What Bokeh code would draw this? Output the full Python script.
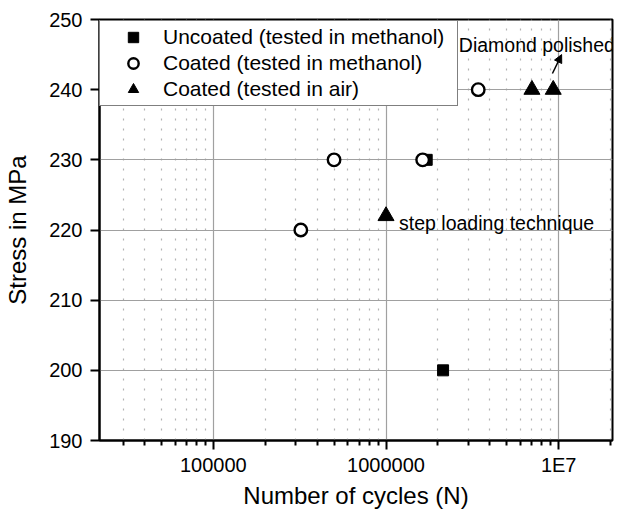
from bokeh.plotting import figure
from bokeh.models import (FixedTicker, Range1d, Label, Arrow, NormalHead, Legend, LegendItem)
from bokeh.embed import file_html
from bokeh.resources import INLINE

# ---- data ----
uncoated_cycles = [1.72e6, 2.14e6]
uncoated_stress = [230, 200]
coated_meth_cycles = [3.21e5, 5.0e5, 1.63e6, 3.42e6]
coated_meth_stress = [220, 230, 230, 240]
coated_air_cycles = [1.0e6, 7.0e6, 9.3e6]
coated_air_stress = [222, 240, 240]

x_major = [1e5, 1e6, 1e7]
x_major_labels = {1e5: "100000", 1e6: "1000000", 1e7: "1E7"}
x_minor = [m * 10 ** e for e in (4, 5, 6) for m in range(2, 10)] + [2e7]
y_ticks = [190, 200, 210, 220, 230, 240, 250]

FONT = "Liberation Sans"

p = figure(width=626, height=513, x_axis_type="log",
           x_range=Range1d(2.19e4, 2.05e7), y_range=Range1d(190, 250),
           output_backend="svg", toolbar_location=None,
           min_border_left=99, min_border_right=14, min_border_top=19, min_border_bottom=73)
p.background_fill_color = "white"
p.outline_line_color = "black"
p.outline_line_width = 2

# axes
p.xaxis.ticker = FixedTicker(ticks=x_major, minor_ticks=x_minor)
p.xaxis.major_label_overrides = x_major_labels
p.yaxis.ticker = FixedTicker(ticks=y_ticks)
for ax in (p.xaxis[0], p.yaxis[0]):
    ax.axis_line_width = 2
    ax.axis_line_color = "black"
    ax.major_tick_line_width = 2
    ax.major_tick_line_color = "black"
    ax.major_tick_out = 9
    ax.major_tick_in = 0
    ax.major_label_text_font = FONT
    ax.major_label_text_font_size = "20px"
    ax.major_label_text_color = "black"
    ax.axis_label_text_font = FONT
    ax.axis_label_text_font_size = "24px"
    ax.axis_label_text_font_style = "normal"
    ax.axis_label_text_color = "black"
p.xaxis.minor_tick_line_width = 2
p.xaxis.minor_tick_line_color = "black"
p.xaxis.minor_tick_out = 5
p.xaxis.minor_tick_in = 0
p.yaxis.minor_tick_line_color = None
p.xaxis.major_label_standoff = 4
p.xaxis.axis_label_standoff = 3
p.yaxis.major_label_standoff = 8
p.yaxis.axis_label_standoff = 15
p.xaxis.axis_label = "Number of cycles (N)"
p.yaxis.axis_label = "Stress in MPa"

# grids
p.xgrid.grid_line_color = "#a0a0a0"
p.xgrid.grid_line_width = 1.2
p.xgrid.minor_grid_line_color = "#b4b4b4"
p.xgrid.minor_grid_line_dash = "2 8"
p.xgrid.minor_grid_line_width = 1.2
p.ygrid.grid_line_color = "#a0a0a0"
p.ygrid.grid_line_width = 1.2

# markers
r1 = p.scatter(uncoated_cycles, uncoated_stress, marker="square", size=11,
               fill_color="black", line_color="black")
r2 = p.scatter(coated_meth_cycles, coated_meth_stress, marker="circle", size=12.5,
               fill_color="white", line_color="black", line_width=2.4)
r3 = p.scatter(coated_air_cycles, coated_air_stress, marker="triangle", size=16,
               fill_color="black", line_color="black")

legend = Legend(items=[
    LegendItem(label="Uncoated (tested in methanol)", renderers=[r1]),
    LegendItem(label="Coated (tested in methanol)", renderers=[r2]),
    LegendItem(label="Coated (tested in air)", renderers=[r3]),
], location=(0, 334))
legend.margin = 0
legend.padding = 3
legend.spacing = 0
legend.glyph_width = 60
legend.glyph_height = 26
legend.label_height = 26
legend.label_width = 291
legend.label_standoff = 0
legend.label_text_font = FONT
legend.label_text_font_size = "21px"
legend.label_text_color = "black"
legend.border_line_color = "black"
legend.border_line_width = 1
legend.background_fill_color = "white"
legend.background_fill_alpha = 1
p.add_layout(legend, "center")

# annotations
p.add_layout(Label(x=1.19e6, y=221, text="step loading technique",
                   text_font=FONT, text_font_size="19.5px",
                   text_baseline="middle", text_color="black"))
p.add_layout(Label(x=2.64e6, y=246.4, text="Diamond polished",
                   text_font=FONT, text_font_size="19.5px",
                   text_baseline="middle", text_color="black"))
p.add_layout(Arrow(end=NormalHead(size=8, fill_color="black", line_color="black"),
                   x_start=9.2e6, y_start=242.3, x_end=1.04e7, y_end=245.0,
                   line_color="black", line_width=1.5))

open("out.html", "w").write(file_html(p, INLINE))
